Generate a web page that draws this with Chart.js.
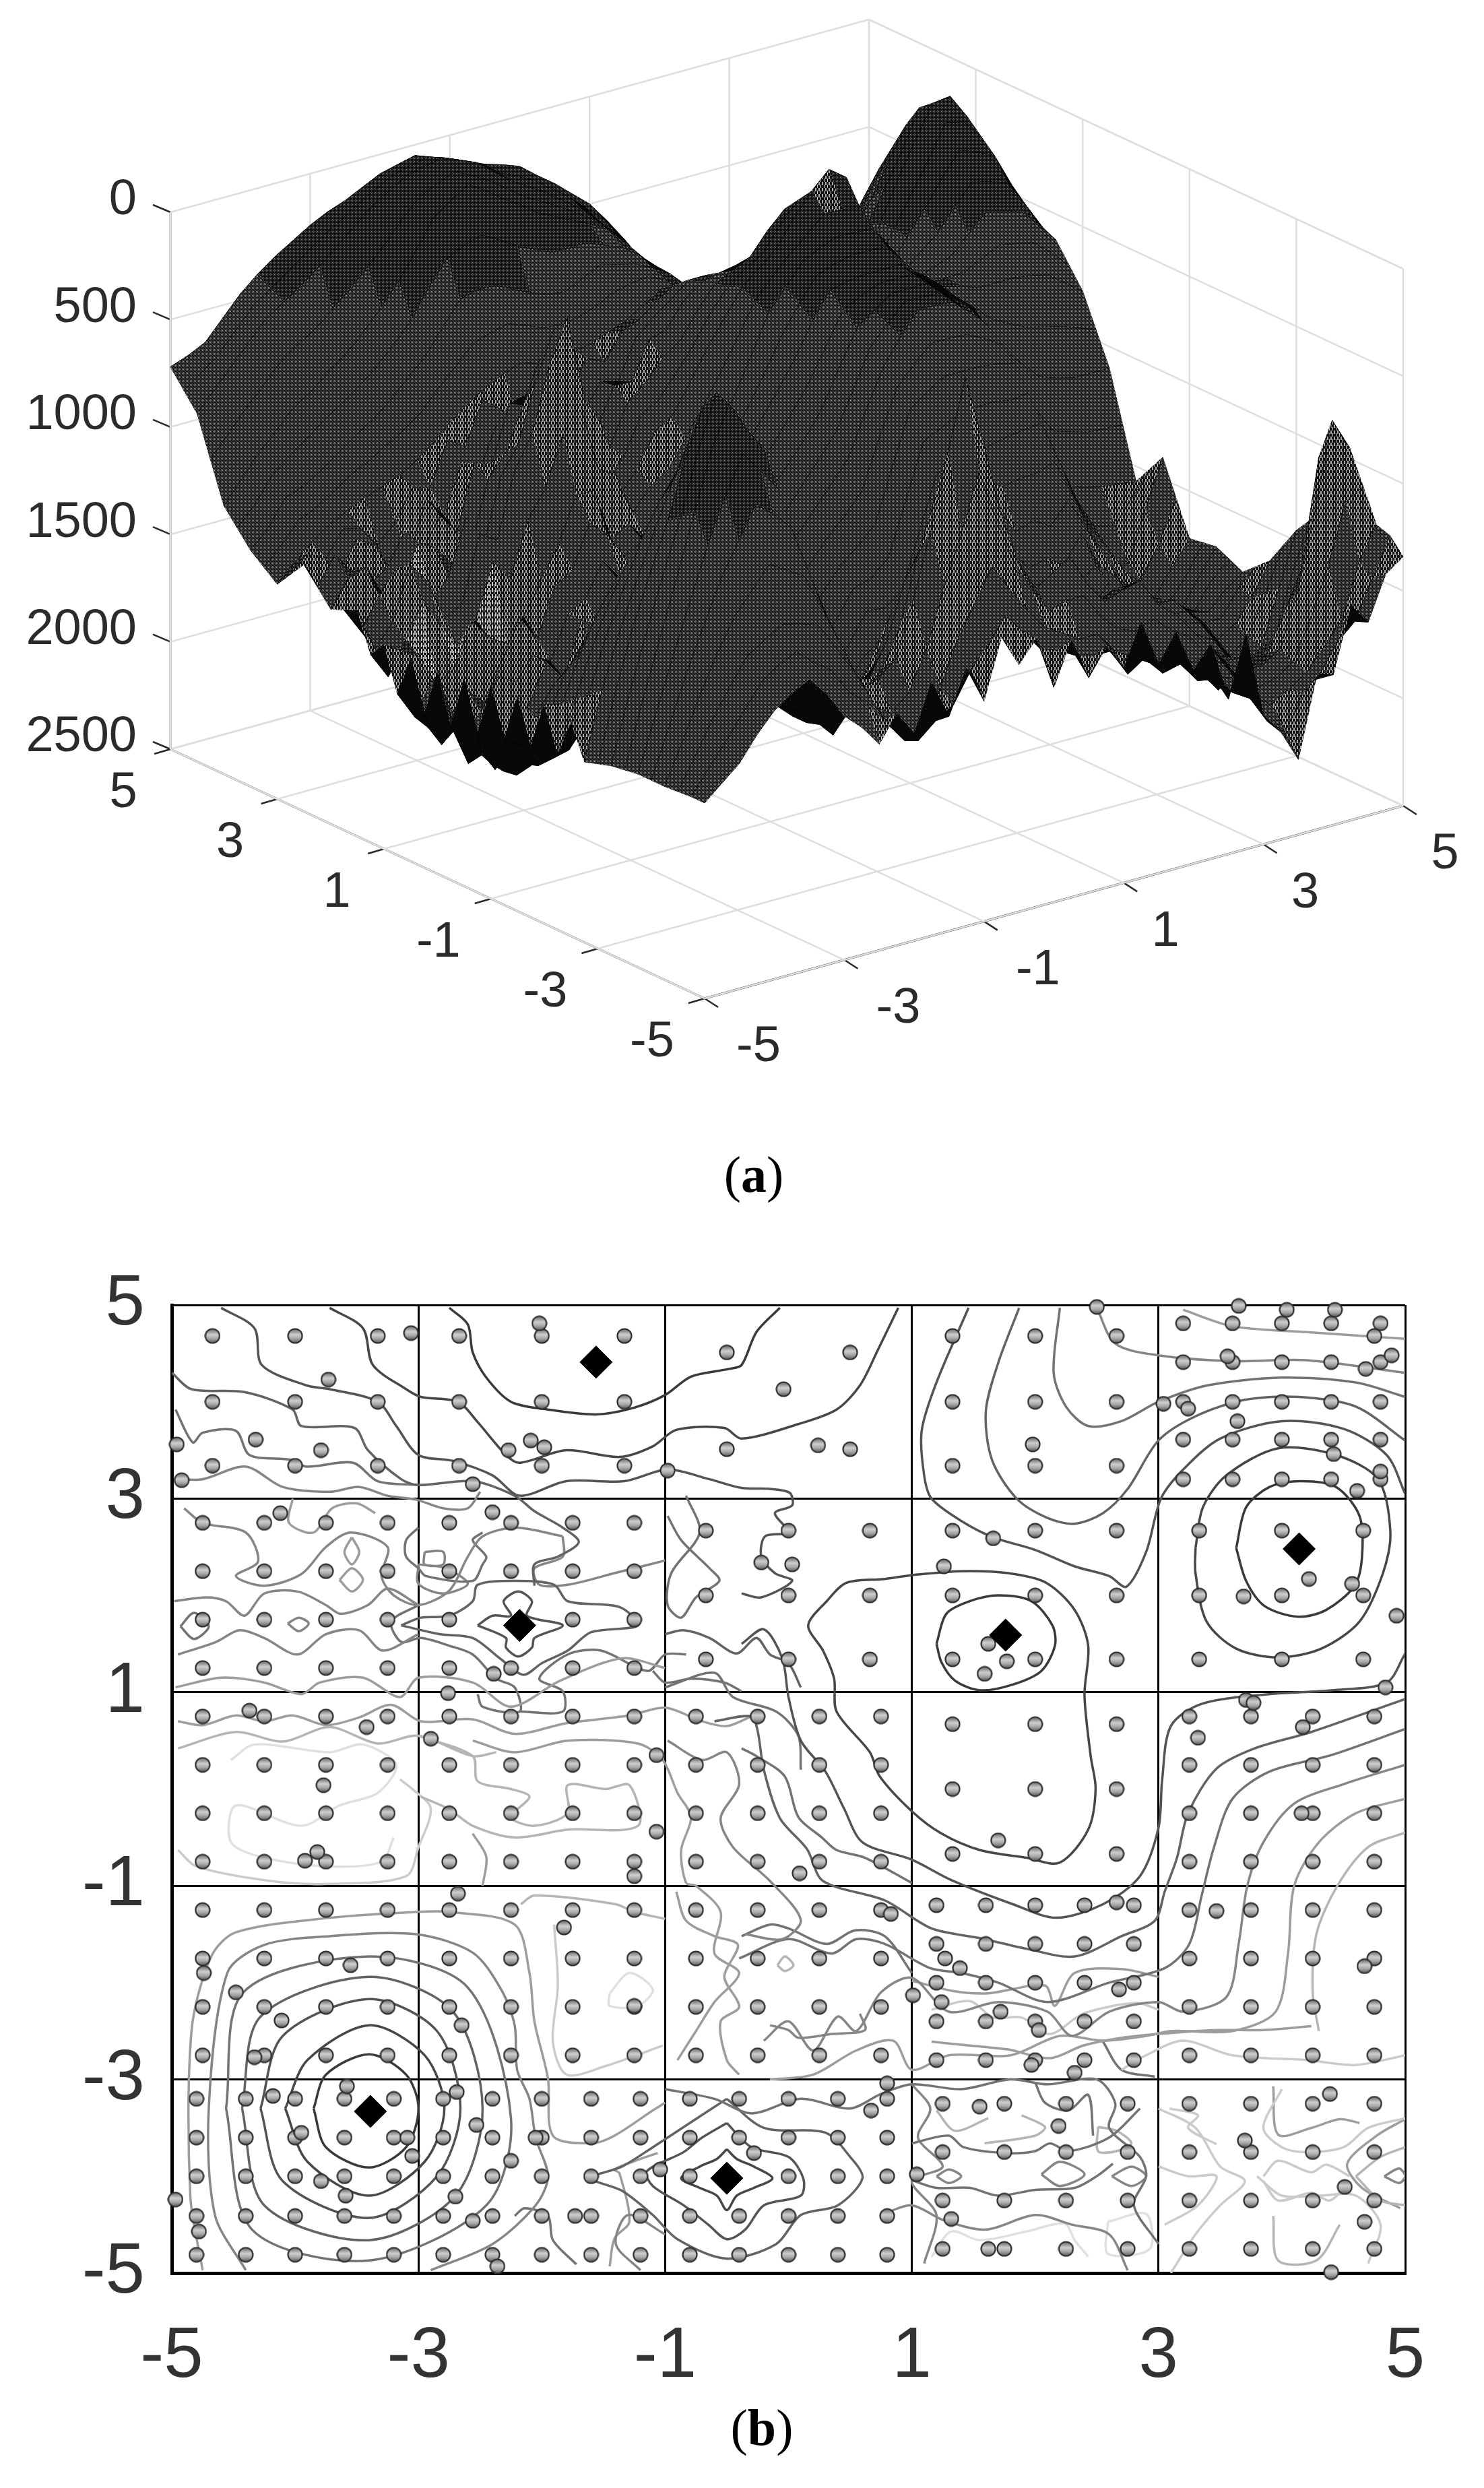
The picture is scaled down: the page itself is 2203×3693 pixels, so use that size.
<!DOCTYPE html>
<html lang="en">
<head>
  <meta charset="UTF-8">
  <title>Surface and contour map</title>
  <script src="https://cdn.jsdelivr.net/npm/chart.js"></script>
  <style>
    html, body { margin: 0; padding: 0; background: #fff; }
    body { width: 2203px; height: 3693px; position: relative; overflow: hidden; }
    canvas { position: absolute; left: 0; }
    #surfaceChart { top: 0; }
    #contourChart { top: 1800px; }
    .caption { position: absolute; font-family: 'Liberation Serif', serif; font-size: 76px; color: #000; transform: translateX(-50%); }
  </style>
</head>
<body>
  <canvas id="surfaceChart" width="2203" height="1700"></canvas>
  <canvas id="contourChart" width="2203" height="1800"></canvas>
  <div class="caption" style="left:1119px;top:1700px">(<b>a</b>)</div>
  <div class="caption" style="left:1131px;top:3560px">(<b>b</b>)</div>

<script>
// tick labels
const floorTicks = [-5, -3, -1, 1, 3, 5];
const depthTicks = [0, 500, 1000, 1500, 2000, 2500];
const mapTicks = [-5, -3, -1, 1, 3, 5];

// surface grid (a) and the contour levels of panel (b)
const gridX = [-5,-4.75,-4.5,-4.25,-4,-3.75,-3.5,-3.25,-3,-2.75,-2.5,-2.25,-2,-1.75,-1.5,-1.25,-1,-0.75,-0.5,-0.25,0,0.25,0.5,0.75,1,1.25,1.5,1.75,2,2.25,2.5,2.75,3,3.25,3.5,3.75,4,4.25,4.5,4.75,5];
const gridY = [5,4.75,4.5,4.25,4,3.75,3.5,3.25,3,2.75,2.5,2.25,2,1.75,1.5,1.25,1,0.75,0.5,0.25,0,-0.25,-0.5,-0.75,-1,-1.25,-1.5,-1.75,-2,-2.25,-2.5,-2.75,-3,-3.25,-3.5,-3.75,-4,-4.25,-4.5,-4.75,-5];
const surfaceZ = [
[720,690,650,560,470,400,340,290,240,200,170,130,90,70,50,80,110,145,180,205,235,300,360,430,500,600,710,850,1000,1200,1380,1440,1500,1580,1650,1730,1800,1850,1900,1930,1950],
[800,740,675,585,495,440,380,320,260,210,155,110,65,45,28,55,90,140,190,230,268,330,390,465,540,650,755,890,1025,1200,1365,1410,1460,1505,1550,1595,1640,1670,1700,1715,1725],
[880,790,700,610,520,470,420,350,280,210,140,90,40,20,5,35,70,135,200,250,300,360,420,500,580,690,800,920,1050,1200,1350,1385,1420,1435,1450,1465,1480,1490,1500,1500,1500],
[1065,970,875,790,700,640,590,520,450,370,285,190,110,70,38,80,125,185,245,290,335,390,440,520,610,700,800,910,1025,1150,1275,1295,1310,1295,1275,1235,1190,1205,1225,1275,1325],
[1250,1150,1050,970,880,830,760,700,620,530,430,310,180,120,70,120,180,230,290,330,370,410,460,540,640,720,800,900,1000,1100,1200,1210,1200,1150,1100,1000,900,920,950,1040,1150],
[1325,1240,1125,1060,1000,930,880,820,750,670,575,450,340,300,275,320,370,410,445,450,445,480,510,570,645,720,810,900,1000,1080,1150,1100,1050,970,900,780,665,700,750,870,990],
[1400,1320,1200,1170,1120,1060,1000,950,880,800,720,610,500,480,480,520,560,590,600,560,520,540,560,600,650,730,820,910,1000,1050,1100,1000,900,800,700,560,430,480,550,680,830],
[1450,1370,1275,1240,1185,1130,1090,1040,990,930,840,760,675,650,630,660,695,700,690,660,620,600,590,630,670,740,810,900,980,1010,1025,920,800,690,585,440,300,370,450,600,760],
[1500,1420,1350,1290,1250,1210,1180,1150,1100,1040,960,900,850,810,780,810,830,800,780,750,720,670,620,650,690,740,800,880,960,960,950,830,700,590,470,320,170,260,350,520,690],
[1425,1350,1400,1280,1300,1400,1315,1180,1200,1000,1055,860,925,1000,940,960,915,800,840,720,685,620,570,590,610,650,700,760,815,840,865,790,690,540,395,240,60,90,235,420,605],
[1350,1500,1450,1300,1350,1500,1450,1200,1300,1080,1150,950,1000,1150,1100,950,1000,880,900,720,650,590,520,520,530,560,600,630,670,720,780,740,680,500,320,160,10,0,120,320,520],
[1425,1300,1400,1480,1425,1280,1400,1250,1350,1050,1075,820,800,1050,1025,1150,1050,870,875,700,675,560,500,480,465,440,410,430,470,570,680,660,650,500,360,220,70,90,180,360,540],
[1500,1380,1350,1500,1500,1300,1350,1450,1400,1100,1000,800,600,850,950,1100,1100,920,850,760,700,580,480,440,400,300,220,240,270,420,580,600,620,510,400,280,170,200,240,400,560],
[1475,1600,1450,1350,1450,1550,1450,1200,1350,1050,925,650,440,800,925,1200,1125,950,900,800,690,560,460,400,350,240,150,160,185,350,525,570,620,550,480,380,285,310,340,460,590],
[1450,1650,1550,1300,1400,1600,1550,1250,1300,1000,850,550,350,750,900,1250,1150,1000,950,820,680,560,440,370,300,180,80,0,60,280,470,550,620,590,560,480,400,420,440,530,620],
[1625,1750,1600,1450,1575,1700,1600,1350,1450,1200,1075,850,725,1050,1100,1300,1200,1150,1025,900,765,620,470,380,300,225,155,160,170,320,470,540,610,610,605,565,525,540,560,630,710],
[1550,1600,1650,1800,1750,1550,1650,1700,1600,1450,1300,1100,1100,1350,1300,1400,1250,1200,1100,980,850,680,500,400,300,260,230,235,240,350,470,530,600,620,650,650,650,660,680,740,800],
[1750,1880,1725,1800,1825,1900,1725,1550,1675,1450,1400,1200,1275,1400,1350,1450,1275,1200,1100,1000,875,730,575,450,340,310,290,290,295,390,485,550,620,690,765,810,850,870,890,920,950],
[1560,1900,1800,1950,1900,1750,1800,1700,1750,1550,1500,1350,1450,1500,1400,1400,1300,1250,1100,1030,900,780,650,500,380,360,350,350,350,420,500,570,640,760,880,970,1050,1080,1100,1100,1100],
[1790,1950,1875,2000,1950,2050,1875,1700,1800,1550,1600,1400,1475,1600,1475,1500,1400,1300,1175,1080,975,860,740,590,440,400,365,365,365,440,515,610,710,860,1015,1150,1275,1300,1325,1330,1335],
[1560,1850,1950,2050,2000,2100,1950,1800,1850,1700,1700,1500,1500,1650,1550,1600,1500,1400,1250,1150,1050,950,830,660,500,440,380,380,380,450,530,650,780,960,1150,1330,1500,1530,1550,1560,1570],
[1780,1980,1950,2060,1975,2080,1975,1800,1825,1780,1725,1550,1550,1720,1625,1650,1525,1450,1325,1230,1125,1020,915,740,560,470,390,390,395,470,545,710,890,1100,1300,1480,1650,1680,1700,1600,1485],
[1540,1900,1950,2050,1950,2020,2000,1820,1800,1850,1750,1620,1600,1800,1700,1700,1550,1500,1400,1300,1200,1100,1000,800,620,500,400,400,410,480,560,770,1000,1230,1450,1630,1800,1830,1850,1620,1400],
[1760,1950,1875,1980,1900,1950,1875,1750,1750,1850,1775,1650,1750,1800,1725,1700,1575,1600,1500,1400,1300,1220,1125,900,690,600,525,525,530,570,620,850,1100,1310,1500,1650,1800,1850,1900,1750,1560],
[1520,1850,1800,1900,1850,1780,1750,1650,1700,1850,1800,1920,1900,1700,1750,1650,1600,1680,1600,1500,1400,1330,1250,1000,760,700,650,650,650,660,680,930,1200,1380,1550,1680,1800,1880,1950,1830,1720],
[1730,1780,1650,1640,1625,1560,1550,1480,1550,1750,1650,1800,1800,1720,1800,1700,1650,1800,1700,1600,1475,1450,1375,1130,880,840,800,790,785,800,790,1020,1250,1420,1575,1700,1825,1900,1950,1850,1710],
[1500,1620,1500,1420,1400,1360,1350,1370,1400,1500,1500,1680,1700,1850,1850,1800,1700,1850,1800,1680,1550,1560,1500,1250,1000,980,950,940,920,910,900,1100,1300,1450,1600,1730,1850,1900,1950,1820,1700],
[1700,1580,1400,1290,1200,1170,1150,1170,1200,1320,1400,1600,1650,1800,1825,1900,1775,1880,1825,1720,1650,1680,1575,1340,1100,1080,1050,1100,1085,1080,1050,1230,1400,1520,1650,1780,1825,1880,1925,1800,1730],
[1480,1500,1300,1130,1000,970,950,970,1000,1150,1300,1500,1600,1780,1800,1900,1850,1880,1850,1780,1750,1780,1650,1400,1200,1250,1150,1280,1250,1300,1200,1350,1500,1650,1700,1800,1800,1880,1900,1820,1760],
[1680,1450,1225,1030,875,790,715,780,850,1040,1225,1420,1550,1750,1800,1880,1825,1880,1775,1850,1800,1800,1675,1550,1350,1420,1325,1420,1400,1450,1325,1500,1575,1720,1775,1820,1825,1900,1900,1780,1705],
[1500,1400,1150,950,750,600,480,580,700,930,1150,1350,1500,1700,1800,1900,1800,1780,1700,1850,1850,1820,1700,1650,1500,1620,1500,1600,1550,1520,1450,1620,1650,1780,1850,1820,1850,1950,1900,1800,1650],
[1660,1350,1100,880,675,480,300,400,525,790,1050,1300,1500,1650,1725,1750,1625,1620,1500,1650,1675,1700,1575,1550,1400,1550,1475,1600,1550,1600,1500,1680,1700,1850,1875,1850,1900,2000,1925,1750,1550],
[1640,1330,1050,820,600,340,120,220,350,650,950,1250,1500,1620,1650,1600,1450,1400,1300,1450,1500,1550,1450,1450,1300,1450,1450,1560,1550,1620,1550,1700,1750,1900,1900,1880,1950,2020,1950,1700,1450],
[1620,1320,1050,790,550,260,20,170,325,620,925,1200,1425,1550,1575,1500,1275,1150,1050,1180,1300,1400,1425,1400,1300,1450,1475,1500,1475,1560,1575,1700,1750,1880,1950,1920,1925,1960,1875,1600,1375],
[1610,1320,1050,780,500,230,40,180,300,600,900,1150,1350,1480,1500,1350,1100,950,800,950,1100,1300,1400,1350,1300,1450,1500,1450,1400,1520,1600,1680,1750,1900,2000,1950,1900,1900,1800,1500,1300],
[1600,1350,1100,860,625,420,245,340,450,720,975,1200,1400,1500,1425,1250,950,700,465,700,950,1150,1300,1250,1200,1350,1425,1400,1350,1480,1550,1650,1725,1850,1925,1900,1850,1680,1500,1000,1050],
[1600,1380,1150,950,750,600,450,520,600,830,1050,1250,1450,1420,1350,1100,800,450,130,450,800,1050,1200,1150,1100,1250,1350,1320,1300,1430,1500,1600,1700,1800,1850,1850,1800,1550,1200,800,950],
[1600,1420,1225,1050,900,800,700,750,800,970,1150,1330,1500,1550,1475,1300,1025,800,540,780,1000,1150,1275,1250,1250,1370,1450,1480,1450,1520,1575,1680,1750,1850,1900,1880,1825,1650,1425,1150,1100],
[1595,1450,1300,1170,1050,1000,950,970,1000,1120,1250,1400,1550,1650,1600,1450,1250,1100,950,1080,1200,1300,1350,1400,1400,1500,1550,1600,1600,1650,1650,1750,1800,1900,1950,1900,1850,1750,1650,1400,1250],
[1590,1480,1375,1260,1150,1090,1050,1120,1180,1300,1375,1480,1540,1620,1550,1500,1360,1260,1150,1250,1350,1380,1425,1450,1450,1580,1525,1620,1600,1700,1715,1800,1850,1980,2050,1900,1825,1700,1625,1450,1270],
[1590,1520,1450,1340,1250,1190,1150,1240,1365,1440,1540,1420,1537,1320,1500,1300,1474,1200,1350,1250,1500,1300,1500,1380,1500,1310,1527,1400,1600,1500,1780,1500,1900,2000,2150,1800,1800,1500,1600,1400,1340]
];

// sample points of panel (b): regular rows, y then its x values
const sampleRows = [
[4.68,[-4.67,-4,-3.33,-2.67,-2,-1.33,1.33,2,2.66]],
[4,[-4.67,-4,-3.33,-2.67,-2,-1.33,1.33,2,2.66]],
[3.34,[-4.67,-4,-3.33,-2.67,-2,-1.33,1.33,2,2.66]],
[2.75,[-4.75,-4.25,-3.75,-3.25,-2.75,-2.25,-1.75,-1.25]],
[2.25,[-4.75,-4.25,-3.75,-3.25,-2.75,-2.25,-1.75,-1.25]],
[1.75,[-4.75,-4.25,-3.75,-3.25,-2.75,-1.75,-1.25]],
[1.25,[-4.75,-4.25,-3.75,-3.25,-2.75,-2.25,-1.75,-1.25]],
[2.67,[-0.67,0,0.66,1.33,2,2.66,3.33,4,4.66]],
[2,[-0.67,0,0.66,1.33,2,2.66,3.33,4,4.66]],
[1.34,[-0.67,0,0.66,1.33,2,2.66,3.33,4,4.66]],
[0.67,[1.33,2,2.66]],
[0,[1.33,2,2.66]],
[-0.67,[1.33,2,2.66]],
[0.75,[-4.75,-4.25,-3.75,-3.25,-2.75,-2.25,-1.75,-1.25,-0.75,-0.25,0.25,0.75,3.25,3.75,4.25,4.75]],
[0.25,[-4.75,-4.25,-3.75,-3.25,-2.75,-2.25,-1.75,-1.25,-0.75,-0.25,0.25,0.75,3.25,3.75,4.25,4.75]],
[-0.25,[-4.75,-4.25,-3.75,-3.25,-2.75,-2.25,-1.75,-1.25,-0.75,-0.25,0.25,0.75,3.25,3.75,4.25,4.75]],
[-0.75,[-4.75,-4.25,-3.75,-3.25,-2.75,-2.25,-1.75,-1.25,-0.75,-0.25,0.25,0.75,3.25,3.75,4.25,4.75]],
[-1.25,[-4.75,-4.25,-3.75,-3.25,-2.75,-2.25,-1.75,-1.25,-0.75,-0.25,0.25,0.75,3.25,3.75,4.25,4.75]],
[-1.75,[-4.75,-4.25,-3.75,-3.25,-2.75,-2.25,-1.75,-1.25,-0.75,-0.25,0.25,0.75,3.25,3.75,4.25,4.75]],
[-2.25,[-4.75,-4.25,-3.75,-3.25,-2.75,-2.25,-1.75,-1.25,-0.75,-0.25,0.25,0.75,3.25,3.75,4.25,4.75]],
[-2.75,[-4.75,-4.25,-3.75,-3.25,-2.75,-2.25,-1.75,-1.25,-0.75,-0.25,0.25,0.75,3.25,3.75,4.25,4.75]],
[4.81,[3.2,3.6,4,4.4,4.8]],
[4.41,[3.2,3.6,4,4.4,4.8]],
[4,[3.2,3.6,4,4.4,4.8]],
[3.61,[3.2,3.6,4,4.4,4.8]],
[3.2,[3.2,3.6,4,4.4,4.8]],
[-1.2,[1.2,1.6,2,2.4,2.8]],
[-1.6,[1.2,1.6,2,2.4,2.8]],
[-2,[1.2,1.6,2,2.4,2.8]],
[-2.4,[1.2,1.6,2,2.4,2.8]],
[-2.8,[1.2,1.6,2,2.4,2.8]],
[-3.2,[-4.8,-4.4,-4,-3.6,-3.2,-2.8,-2.4,-2,-1.6,-1.2,-0.8,-0.4,0,0.4,0.8]],
[-3.6,[-4.8,-4.4,-4,-3.6,-3.2,-2.8,-2.4,-2,-1.6,-1.2,-0.8,-0.4,0,0.4,0.8]],
[-4,[-4.8,-4.4,-4,-3.6,-3.2,-2.8,-2.4,-2,-1.6,-1.2,-0.8,0,0.4,0.8]],
[-4.41,[-4.8,-4.4,-4,-3.6,-3.2,-2.8,-2.4,-2,-1.6,-1.2,-0.8,-0.4,0,0.4,0.8]],
[-4.81,[-4.8,-4.4,-4,-3.6,-3.2,-2.8,-2.4,-2,-1.6,-1.2,-0.8,-0.4,0,0.4,0.8]],
[-3.25,[1.25,1.75,2.25,2.75,3.25,3.75,4.25,4.75]],
[-3.75,[1.25,1.75,2.25,2.75,3.25,3.75,4.25,4.75]],
[-4.25,[1.25,1.75,2.25,2.75,3.25,3.75,4.25,4.75]],
[-4.75,[1.25,1.75,2.25,2.75,3.25,3.75,4.25,4.75]]
];
// off-grid sample points
const sampleExtraX = [-3.06,-2.02,-3.73,-4.96,-4.32,-3.79,-2.27,-2.09,-1.98,-4.92,-2.56,-0.98,-0.5,-0.5,-4.12,-2.4,-2.39,-2.76,-4.37,-3.42,-2.9,-1.07,-3.77,-1.07,-3.92,-3.82,-1.25,0.5,-0.04,0.24,0.5,-0.22,0.03,0.09,1.98,2.5,1.66,1.26,1.62,1.77,1.59,1.7,3.65,4.04,4.43,4.75,3.56,4.68,4.89,3.04,3.24,3.64,4.42,4.8,4.61,4.22,3.69,4.57,4.93,4.84,3.71,3.77,3.32,4.17,4.16,-4.74,-3.55,-4.48,-4.11,-4.33,-2.68,-1.82,-2.65,-1.25,-4.18,-3.58,-3.95,-3.79,-3.59,-3.09,-3.05,-4.97,-4.78,-2.69,-2.53,-2.25,-2.7,-2.56,-2.05,-1.73,-2.36,-1.04,0.8,0.67,1.04,0.83,1.01,-0.28,2.66,1.27,1.39,1.24,2.68,1.72,2.03,1.97,2.32,3.47,4.67,1.55,2.19,1.32,1.62,4.39,3.7,4.51,4.67,4.4];
const sampleExtraY = [4.71,4.81,4.23,3.56,3.61,3.5,3.5,3.6,3.53,3.19,3.15,3.29,4.51,3.51,2.85,2.86,1.19,0.99,0.81,0.64,0.52,0.35,0.04,-0.44,-0.74,-0.65,-0.9,4.51,4.13,3.55,3.51,2.34,2.32,-0.87,3.56,4.98,2.59,2.3,1.5,1.32,1.19,-0.53,4.99,4.95,4.95,4.68,4.47,4.34,4.48,3.98,3.93,3.8,3.46,3.28,3.08,2.17,1.99,2.12,1.79,1.05,0.92,0.89,0.53,0.64,-0.25,-1.9,-1.82,-2.1,-2.39,-2.77,-1.08,-1.43,-2.44,-2.24,-3.17,-3.07,-3.55,-4.05,-4.2,-3.6,-3.79,-4.24,-4.57,-3.13,-3.47,-3.84,-4.21,-4.46,-3.6,-4.41,-4.93,-3.93,-3.04,-3.32,-3.98,-1.29,-2.13,-3.76,-1.17,-1.75,-1.85,-2.2,-2.07,-2.3,-2.49,-2.85,-2.93,-1.26,-1.83,-3.28,-3.48,-4.44,-4.75,-3.15,-3.63,-4.11,-4.47,-4.99];
// optima marked with diamonds
const optimaX = [-1.56,-2.18,1.76,4.14,-3.39,-0.5];
const optimaY = [4.41,1.69,1.59,2.48,-3.33,-4.02];

// traced contour lines of panel (b): x,y,x,y...; contourLevels runs dark (1) to pale (10)
const contourLevels = [1,2,3,4,5,3,4,6,6,6, 1,2,1,2,3,3,4,4,5,6, 7,1,2,3,4,5,6,7,6,7, 8,10,7,8,7,6,8,9,10,6, 5,7,5,5,5,6,9,9,9,8, 8,6,6,6,8,9,9,2,3,4, 6,5,4,5,7,7, 5,6,5,5,6,7,5,5,5,6,6,7,8, 5,6,7,9,7,5,5,8,8,8,6, 10,10,9,9,9,9,7,8,7,6,5];
const contourLines = [
[-2.75,4.97,-2.6,4.8,-2.56,4.51,-2.45,4.25,-2.25,4,-1.95,3.92,-1.56,3.87,-1.25,3.94,-1,4.07,-0.79,4.26,-0.48,4.34,-0.38,4.38,-0.26,4.72,-0.07,4.97],
[-3.72,4.97,-3.45,4.76,-3.37,4.38,-3.1,4.13,-2.98,4.05,-2.68,4,-2.52,3.79,-2.29,3.45,-2.18,3.37,-1.8,3.5,-1.37,3.43,-1.1,3.54,-0.91,3.71,-0.52,3.73,-0.38,3.62,0.08,3.77,0.39,3.92,0.58,4.17,0.73,4.55,0.89,4.97],
[-4.6,4.97,-4.33,4.76,-4.27,4.38,-3.91,4.17,-3.72,4.13,-3.33,4,-3.18,3.75,-3,3.45,-2.72,3.39,-2.4,3.24,-2.18,3.03,-1.8,3.18,-1.33,3.18,-0.98,3.3,-0.64,3.2,-0.38,3.11,-0.15,3.1,0.01,3.06,0.03,2.93,-0.11,2.85,0,2.65,-0.19,2.61,-0.22,2.4,-0.11,2.23,0.03,2.15,-0.22,1.98,-0.38,2.02],
[-5,4.3,-4.84,4.13,-4.41,4.1,-4.02,3.92,-3.95,3.75,-3.52,3.73,-3.41,3.5,-3.14,3.2,-3,3.14,-2.56,3.18,-2.22,3.03,-2.06,2.87,-1.83,2.7,-1.7,2.55,-1.87,2.4,-2.06,2.32,-2.06,2.1],
[-4.97,3.92,-4.83,3.58,-4.75,3.68,-4.48,3.7,-4.37,3.45,-4.03,3.4,-3.91,3.33,-3.53,3.37,-3.33,3.18,-3,3.14],
[-2.52,1.69,-2.4,1.79,-2.25,1.79,-2.31,1.94,-2.19,2.04,-2.08,1.94,-2.12,1.79,-1.83,1.69,-2.06,1.56,-2.08,1.46,-2.19,1.37,-2.29,1.46,-2.29,1.56,-2.52,1.69],
[-3.14,1.69,-2.98,1.77,-2.75,1.79,-2.56,1.94,-2.52,2.11,-2.21,2.15,-1.9,2.11,-1.79,1.94,-1.37,1.88,-1.22,1.69,-1.6,1.62,-1.79,1.43,-2,1.3,-2.15,1.18,-2.34,1.35,-2.56,1.56,-2.83,1.6,-3.14,1.69],
[-4.95,3.2,-4.75,3.2,-4.4,3.33,-4.1,3.12,-3.72,3.07,-3.48,3.12,-3.25,3.03,-3.02,2.99,-2.8,2.9,-2.6,2.9,-2.5,3.07],
[-4.9,2.9,-4.75,2.75,-4.4,2.65,-4.3,2.35,-4.48,2.2,-4.25,2.1,-3.95,2.22,-3.75,2.5,-3.55,2.65,-3.25,2.5,-3.3,2.2,-3.2,2,-3,1.9,-2.75,2.05,-2.6,2.4,-2.48,2.61,-2.21,2.7,-1.83,2.61],
[-4.98,1.94,-4.72,1.98,-4.56,1.94,-4.41,1.79,-4.25,2.02,-3.98,2.04,-3.75,1.9,-3.63,1.81,-3.41,1.9,-3.25,2.07,-3,1.9],
[1.2,1.5,1.28,1.81,1.47,1.94,1.7,2,1.97,1.94,2.14,1.69,2.16,1.48,2.05,1.22,1.82,1.08,1.55,1.02,1.35,1.12,1.24,1.31,1.2,1.5],
[1,2.21,1.39,2.25,1.78,2.23,2.09,2.13,2.32,1.85,2.43,1.48,2.4,0.97,2.45,0.34,2.49,0,2.43,-0.42,2.2,-0.76,1.93,-0.71,1.55,-0.63,1.24,-0.46,1,-0.23,0.74,0.13,0.66,0.38,0.39,0.8,0.37,1.14,0.28,1.43,0.16,1.69,0.31,1.94,0.47,2.13,0.78,2.17,1,2.21],
[3.63,2.49,3.71,2.91,3.9,3.12,4.15,3.18,4.44,3.12,4.63,2.82,4.65,2.4,4.59,2.1,4.36,1.85,4.13,1.78,3.86,1.89,3.71,2.15,3.63,2.49],
[3.3,2.49,3.36,2.91,3.55,3.24,3.97,3.52,4.44,3.45,4.78,3.2,4.88,2.65,4.82,2.23,4.63,1.73,4.32,1.45,3.97,1.36,3.63,1.45,3.39,1.73,3.3,2.23,3.3,2.49],
[1.46,4.97,1.2,4.2,1.08,3.7,1.1,3.24,1.16,3,1.4,2.77,1.66,2.6,2,2.47,2.32,2.3,2.6,2.2,2.74,2.09,2.9,2.45,3.02,3,3.2,3.3,3.5,3.62,4,3.8,4.5,3.72,4.85,3.45,5,3.05],
[5,1.4,4.85,1.1,4.4,1.02,3.9,0.98,3.35,0.88,3.1,0.65,3.03,0.1,3,-0.4,2.85,-0.9,2.55,-1.19,2.17,-1.33,1.82,-1.19,1.32,-0.94,1,-0.73,0.6,-0.55,0.45,-0.2,0.3,0.18,0.1,0.5,0,0.95,-0.05,1.35,-0.2,1.65,-0.38,1.5],
[1.87,4.97,1.7,4.4,1.6,3.9,1.65,3.4,1.85,3,2.1,2.8,2.32,2.74,2.55,2.85,2.75,3.1,3,3.6,3.3,3.85,3.7,4.02,4.14,4.05,4.6,3.95,5,3.6],
[5,0.93,4.24,0.59,3.78,0.42,3.47,0.21,3.24,-0.25,3.15,-0.71,3.05,-1.06,2.97,-1.36,2.7,-1.52,2.32,-1.73,1.93,-1.65,1.55,-1.54,1.16,-1.44,0.78,-1.15,0.28,-0.95,0.15,-0.62,-0.07,-0.3,-0.2,0.2,-0.25,0.6,-0.3,0.75,-0.6,0.7],
[2.2,4.97,2.15,4.3,2.25,3.95,2.43,3.75,2.7,3.8,3,4,3.4,4.17,4,4.25,4.6,4.2,5,4.05],
[2.5,4.97,2.65,4.6,3,4.48,3.6,4.42,4.2,4.43,5,4.3],
[3.2,4.95,3.6,4.78,4.2,4.72,5,4.65],
[-3.85,-3.3,-3.75,-2.95,-3.4,-2.74,-3.1,-2.95,-3,-3.3,-3.1,-3.7,-3.4,-3.91,-3.75,-3.7,-3.85,-3.3],
[-4.08,-3.3,-3.9,-2.8,-3.4,-2.44,-2.95,-2.75,-2.79,-3.3,-2.95,-3.85,-3.4,-4.2,-3.9,-3.85,-4.08,-3.3],
[-4.28,-3.3,-4.1,-2.55,-3.4,-2.17,-2.85,-2.5,-2.66,-3.3,-2.85,-4,-3.4,-4.43,-4.1,-4.05,-4.28,-3.3],
[-4.43,-3.3,-4.28,-2.35,-3.4,-1.94,-2.72,-2.3,-2.48,-3.3,-2.7,-4.2,-3.4,-4.66,-4.25,-4.3,-4.43,-3.3],
[-4.56,-3.3,-4.42,-2.1,-3.4,-1.73,-2.6,-2.05,-2.25,-3.4,-2.45,-4.3,-3.4,-4.87,-4.35,-4.55,-4.56,-3.3],
[-4.4,-4.97,-4.65,-4.4,-4.7,-3.3,-4.55,-1.9,-4.25,-1.61,-3.72,-1.52,-3.02,-1.5,-2.56,-1.69,-2.33,-2.07,-2.22,-2.44,-2.2,-2.9,-2.1,-3.2,-2.05,-3.6,-1.95,-4,-2.05,-4.3,-2.4,-4.7,-2.9,-4.97],
[-4.75,-4.97,-4.85,-4.2,-4.84,-2.5,-4.68,-1.73,-4.48,-1.48,-3.72,-1.33,-3.02,-1.27,-2.75,-1.27,-2.22,-1.4,-2.1,-1.9,-2.06,-2.4,-1.95,-2.99,-1.91,-3.58,-1.6,-3.66,-1.41,-3.58,-1.1,-3.32,-1,-3.24],
[-4.95,1.39,-4.64,1.52,-4.45,1.64,-4.25,1.56,-3.98,1.39,-3.75,1.6,-3.48,1.64,-3.29,1.43,-3,1.6],
[-4.97,1.05,-4.6,1.15,-4.25,1.1,-3.95,0.98,-3.8,1.1,-3.45,1.15,-3.15,0.95,-3,1.15,-2.56,1.1,-2.25,0.85,-1.85,1.12,-1.35,1.35,-1,1.25],
[-4.95,0.42,-4.48,0.59,-4.1,0.49,-3.72,0.64,-3.33,0.47,-3,0.55,-2.56,0.34,-2.37,0.38],
[-4.52,0.3,-4.33,0.46,-3.72,0.38,-3.45,0.46,-3.18,0.25,-3.33,-0.04,-3.64,-0.17,-3.95,-0.38,-4.48,-0.17,-4.52,-0.55,-4.25,-0.71,-3.72,-0.8,-3.3,-0.75,-3.2,-0.5],
[-4.95,0.7,-4.75,0.66,-4.48,0.76,-4.25,0.7,-4.02,0.76,-3.75,0.66,-3.48,0.74,-3.22,0.87,-2.98,0.7,-2.56,0.72,-2.22,0.57,-1.8,0.68,-1.29,0.76,-1,0.84,-0.7,0.7,-0.5,0.65,-0.3,0.75],
[-3,0.55,-2.56,0.34,-2.52,0.08,-2.25,0,-2.1,-0.08,-2.25,-0.29,-2.06,-0.38,-1.79,-0.25,-1.79,0.04,-1.48,0,-1.29,0.04,-1.22,-0.38,-1.79,-0.42,-2.22,-0.5,-2.56,-0.38,-2.75,-0.21,-2.98,-0.08],
[-2.56,0.5,-2.22,0.38,-1.79,0.5,-1.22,0.47,-1.02,0.3,-0.9,-0.04,-0.79,-0.29,-0.87,-0.63,-0.83,-0.97,-0.75,-1,-0.55,-1.27,-0.6,-1.7,-0.4,-1.9,-0.6,-2.2,-0.75,-2.5,-0.9,-2.8],
[-0.98,0.5,-0.7,0.3,-0.5,0.38,-0.4,0.05,-0.55,-0.3,-0.45,-0.6,-0.15,-0.95,0.1,-1.35,-0.05,-1.55,-0.35,-1.5],
[-2.17,-1.19,-2.06,-1.1,-1.4,-1.19,-1.25,-1.27,-1,-1.34],
[-1.9,-1.4,-1.87,-2.03,-1.91,-2.61,-1.8,-2.95,-1.48,-2.86,-1.02,-2.65],
[-1.45,-2.11,-1.29,-1.9,-1.1,-2.07,-1.22,-2.24,-1.45,-2.24,-1.45,-2.11],
[-0.2,-2.6,0,-2.4,0.2,-2.7,0.4,-2.35,0.55,-2.5,0.75,-2.1,1,-1.95,1.3,-2.3,1.7,-2.2,2.1,-2.3,2.3,-2.55,2.6,-2.3,3,-2.2,3.2,-2.3,3.55,-2.15,3.65,-1.6,3.72,-1,3.85,-0.55,4.1,-0.15,4.5,0.05,5,0.25],
[-1,-3.1,-0.6,-3.2,-0.3,-3.35,0.1,-3.2,0.5,-3.3,0.75,-3.15,1,-3.05,1.4,-3.1,1.8,-3,2.1,-3.05,2.5,-3,2.65,-3.25,2.6,-3.5,2.85,-3.8,2.9,-4,2.8,-4.3,3,-4.7],
[-0.15,-3,0.2,-2.95,0.55,-2.7,0.85,-2.6,1,-2.9,1.3,-2.75,1.8,-2.75,2.2,-2.55,2.55,-2.6,2.9,-2.55,3.1,-2.5,3.6,-2.5,3.95,-2.3,4.05,-1.7,4.1,-1,4.3,-0.55,4.6,-0.25,5,-0.1],
[-0.4,-1.75,0,-1.55,0.35,-1.7,0.55,-1.55,0.78,-1.6,1.15,-1.85,1.4,-1.9,1.7,-2,2.1,-2.2,2.6,-2,3.05,-1.85,3.25,-1.6,3.35,-1.1,3.45,-0.6,3.6,-0.1,3.9,0.18,4.4,0.35,5,0.62],
[1,-3.66,1.3,-3.58,1.42,-3.7,1.75,-3.76,2,-3.74,2.12,-3.66,2.27,-3.74,2.6,-3.6,2.85,-3.3],
[1,-4.04,1.2,-4.12,1.47,-4.12,1.7,-4.2,2,-4.14,2.32,-4.12,2.51,-3.99,2.63,-3.87],
[0.75,-4.4,1,-4.3,1.25,-4.45,1.6,-4.55,2,-4.4,2.3,-4.5,2.6,-4.6,2.75,-4.97],
[3,-3.3,3.3,-3.5,3.5,-3.9,3.7,-4.05,3.5,-4.3,3.3,-4.6,3.1,-5],
[4,-3.1,3.85,-3.5,4,-3.7,4.2,-3.75,4.5,-3.7,4.7,-3.5,5,-3.4],
[5,-2.75,4.6,-2.85,4.2,-2.8,3.6,-2.75,3.2,-2.6,2.9,-2.75,2.7,-2.9],
[4.6,-4,4.8,-3.8,5,-3.7],
[4.6,-4,4.8,-4.25,5,-4.3],
[1,-3.05,1.15,-3.3,1.05,-3.6,1.25,-3.9,1,-4.05,1.2,-4.4,1.1,-4.9],
[2.05,-3.98,2.2,-3.85,2.4,-3.98,2.2,-4.1,2.05,-3.98],
[1.2,-4,1.3,-3.93,1.4,-4,1.3,-4.07,1.2,-4],
[5,-0.45,4.7,-0.6,4.45,-1,4.28,-1.5,4.25,-2.1,4.3,-2.5],
[3.8,-4,4,-4.2,4.3,-4.2,4.6,-4.2,4.8,-4.5,4.7,-4.9],
[-4.95,-0.63,-4.8,-0.8,-4.2,-0.95,-3.72,-0.98,-3.1,-0.9,-3,-0.6,-2.9,-0.2,-3.05,0,-3.15,0.1],
[-0.5,-3.72,-0.42,-3.82,-0.28,-3.9,-0.13,-4.02,-0.28,-4.12,-0.42,-4.2,-0.5,-4.35,-0.58,-4.2,-0.72,-4.12,-0.87,-4.02,-0.72,-3.9,-0.58,-3.82,-0.5,-3.72],
[-0.5,-3.45,-0.3,-3.7,0,-3.8,0.12,-4.02,0.1,-4.2,-0.2,-4.3,-0.35,-4.55,-0.5,-4.65,-0.65,-4.5,-0.85,-4.3,-1.1,-4.1,-1.15,-3.95,-0.85,-3.75,-0.7,-3.6,-0.5,-3.45],
[-0.5,-3.2,-0.2,-3.5,0.3,-3.55,0.5,-3.8,0.6,-4.02,0.4,-4.3,0.1,-4.4,-0.1,-4.7,-0.5,-4.85,-0.9,-4.65,-1.1,-4.4,-1.35,-4.15,-1.6,-4.02,-1.35,-3.9,-1.1,-3.7,-0.8,-3.45,-0.5,-3.2],
[-1,-4.6,-1.3,-4.4,-1.4,-4.7,-1.2,-4.97],
[-0.98,2.82,-0.87,2.57,-0.64,2.28,-0.56,2.15,-0.75,1.98,-0.87,1.77,-0.98,1.9,-0.95,2.23,-0.72,2.65,-0.83,3.03],
[-1,1.6,-0.85,1.64,-0.64,1.56,-0.42,1.4,-0.26,1.56,-0.15,1.39,0,1.3,0.1,1.05],
[-1,1.05,-0.6,1.2,-0.45,0.95,-0.1,0.8,0.08,0.55,0.1,0.2],
[-3.64,2.16,-3.54,2.28,-3.45,2.16,-3.54,2.04,-3.64,2.16],
[-4.02,3,-4.05,2.75,-3.85,2.65,-3.7,2.9,-3.5,2.95,-3.35,2.85],
[-3,2.7,-3.1,2.57,-3.1,2.4,-3,2.28,-2.94,2.2,-2.56,2.15,-2.48,2.32,-2.45,2.4,-2.56,2.57,-2.48,2.65],
[-1.83,2.61,-1.83,2.4,-2.06,2.28,-2.02,2.11,-1.79,2.11,-1.41,2.23,-1,2.36],
[-3,1.9,-3.22,1.73,-3.14,1.52,-2.98,1.56,-2.75,1.48,-2.56,1.39,-2.37,1.14,-2.22,1.05,-2.18,0.8,-2.48,0.85,-2.52,0.98],
[-2.18,0.8,-1.83,0.8,-1.83,1.01,-2.02,1.14,-1.79,1.39,-1.52,1.43,-1.14,1.22,-1,1.39,-0.83,1.39],
[-4.06,1.71,-3.97,1.77,-3.89,1.71,-3.97,1.63,-4.06,1.71],
[-3.54,2.6,-3.48,2.45,-3.54,2.32,-3.6,2.45,-3.54,2.6],
[-4.93,1.68,-4.82,1.82,-4.7,1.68,-4.82,1.55,-4.93,1.68],
[-1.1,1.22,-1,1.1,-0.79,1.14,-0.52,1.1,-0.38,1.01],
[-0.38,0.42,-0.26,0.34,-0.03,0.13,0.08,-0.29,0.27,-0.5,0.39,-0.63,0.62,-0.71,1,-0.97],
[-3,2.32,-2.78,2.28,-2.6,2.12,-2.8,2.02,-3,2.12,-3,2.32],
[-2.95,2.45,-2.8,2.45,-2.8,2.32,-2.95,2.32,-2.95,2.45],
[-0.91,-1.06,-0.83,-1.36,-0.6,-1.52,-0.41,-1.61,-0.52,-1.94,-0.4,-2.25,-0.55,-2.4,-0.5,-2.8,-0.4,-2.95],
[-0.09,-1.82,-0.03,-1.73,0.04,-1.82,-0.03,-1.88,-0.09,-1.82],
[-0.38,-1.52,-0.15,-1.4,0,-1.44,0.31,-1.6,0.54,-1.46,0.78,-1.52,1,-1.9],
[-0.15,-2.44,0,-2.49,0.08,-2.57,0.35,-2.53,0.62,-2.49,0.58,-2.32],
[1,-1.98,1.35,-2.09,1.62,-2.11,2.08,-2.03,2.16,-2.24,2.32,-1.9,2.7,-1.86,3,-1.94],
[1.16,-2.28,1.47,-2.19,1.66,-2.36,1.89,-2.36,2.12,-2.53,2.39,-2.32,2.82,-2.21,3,-2.28],
[1.16,-2.61,1.47,-2.65,1.78,-2.69,2.12,-2.78,2.39,-2.65,2.7,-2.57,3,-2.53,3.47,-2.49,3.85,-2.49,4.24,-2.45],
[2.55,-2.61,2.7,-2.9,2.97,-2.97],
[2,-3.03,2.08,-3.24,2.27,-3.32,2.43,-3.16,2.47,-3.58],
[1.89,-3.37,2.08,-3.49,2,-3.58,1.59,-3.66],
[1.2,-3.32,1.35,-3.53,1.62,-3.4],
[2.51,-3.49,2.66,-3.53,2.78,-3.66,2.66,-3.74,2.51,-3.74,2.51,-3.49],
[2.62,-4,2.78,-3.9,2.9,-4,2.78,-4.1,2.62,-4],
[2.59,-4.47,2.9,-4.39,2.93,-4.75,2.59,-4.8,2.59,-4.47],
[1.16,-4.83,1.32,-4.57,1.55,-4.66,1.93,-4.57,2.24,-4.49,2.32,-4.66,2.43,-4.83],
[3.09,-3.3,3.32,-3.37,3.24,-3.5,3.47,-3.67],
[3,-3.9,3.24,-4,3.47,-4,3.32,-4.3,3.05,-4.5],
[3.85,-4,3.97,-3.84,4.24,-3.96,4.36,-3.88,4.55,-4],
[3.85,-4.05,3.97,-4.25,4.24,-4.17,4.39,-4.25,4.55,-4.05],
[3.93,-3.07,3.97,-3.57,4.24,-3.5,4.47,-3.41,4.63,-3.45],
[3.93,-4.41,3.97,-4.87,4.28,-4.87,4.47,-4.5],
[5,-3.41,4.77,-3.58,4.53,-3.87,4.65,-4.12,4.96,-4.33],
[4.83,-4,4.95,-3.92,5,-4,4.95,-4.07,4.83,-4],
[-2.22,-4.41,-2.14,-4.33,-1.95,-4.41,-1.91,-4.66,-1.72,-4.91],
[-1.45,-4.93,-1.41,-4.64,-1.29,-4.47,-1.37,-3.97,-1.41,-3.93,-1.22,-3.83,-1.06,-3.76],
[-2.56,-0.46,-2.45,-0.7,-2.48,-1]
];

// projection of panel (a): floor corners and height of the box in view units
function project(x, y, z) {
  const a = (y + 5) / 10, b = (x + 5) / 10;
  return {
    x: 1046 - 793 * a + 1037 * b,
    y: 1482 - 370 * a - 286 * b - (2500 - z) * 797 / 2500
  };
}

function makeTile(w, h, specks) {
  const c = document.createElement('canvas');
  c.width = w; c.height = h;
  const g = c.getContext('2d');
  g.fillStyle = '#111';
  g.fillRect(0, 0, w, h);
  specks.forEach(s => { g.fillStyle = s[4]; g.fillRect(s[0], s[1], s[2], s[3]); });
  return g.createPattern(c, 'repeat');
}

const ctxA = document.getElementById('surfaceChart').getContext('2d');
const tileBlack = '#080808';
const tileDark = makeTile(4, 4, [[1, 1, 1, 1, '#777'], [3, 3, 1, 1, '#888'], [1, 3, 1, 1, '#444'], [3, 1, 1, 1, '#444']]);
const tileMid = makeTile(4, 4, [[0, 0, 1, 1, '#999'], [2, 2, 1, 1, '#aaa'], [2, 0, 1, 1, '#777'], [0, 2, 1, 1, '#777'], [1, 1, 1, 1, '#444'], [3, 3, 1, 1, '#444']]);
const tileSteep = makeTile(5, 9, [[0, 0, 2, 5, '#aaa'], [3, 4, 1, 5, '#ccc']]);
const tileBright = makeTile(5, 9, [[0, 0, 2, 6, '#ccc'], [3, 3, 1, 6, '#ddd']]);

function tileFor(q, zs) {
  let s = 0;
  for (let i = 0; i < 4; i++) {
    const p = q[i], n = q[(i + 1) % 4];
    s += p.x * n.y - n.x * p.y;
  }
  const area = s / 2;
  const twist = Math.abs(zs[0] + zs[2] - zs[1] - zs[3]);
  if (area < 170) return tileBlack;
  if (area < 320) return tileDark;
  if (twist > 280) return tileBright;
  if (twist > 70) return tileSteep;
  const mean = (zs[0] + zs[1] + zs[2] + zs[3]) / 4;
  return mean < 450 ? tileDark : tileMid;
}

const surfaceSets = [];
let drawOrder = 100000;
for (let i = 0; i < gridY.length - 1; i++) {
  for (let j = gridX.length - 2; j >= 0; j--) {
    const zs = [surfaceZ[i][j], surfaceZ[i][j + 1], surfaceZ[i + 1][j + 1], surfaceZ[i + 1][j]];
    if (zs.some(v => v === undefined)) continue;
    const q = [
      project(gridX[j], gridY[i], zs[0]),
      project(gridX[j + 1], gridY[i], zs[1]),
      project(gridX[j + 1], gridY[i + 1], zs[2]),
      project(gridX[j], gridY[i + 1], zs[3])
    ];
    surfaceSets.push({ data: q, showLine: false, pointRadius: 0, order: drawOrder--, meshTile: tileFor(q, zs) });
  }
}

function boxLine(p, q, color, width) {
  return { data: [p, q], showLine: true, pointRadius: 0, borderColor: color, borderWidth: width, order: 200000 };
}
const gridGrey = '#dedede', axisDark = '#2a2a2a';
const boxSets = [];
floorTicks.forEach(t => {
  boxSets.push(boxLine(project(t, -5, 2500), project(t, 5, 2500), gridGrey, 2.5));
  boxSets.push(boxLine(project(-5, t, 2500), project(5, t, 2500), gridGrey, 2.5));
  boxSets.push(boxLine(project(t, 5, 2500), project(t, 5, 0), gridGrey, 2.5));
  boxSets.push(boxLine(project(5, t, 2500), project(5, t, 0), gridGrey, 2.5));
});
depthTicks.forEach(z => {
  boxSets.push(boxLine(project(-5, 5, z), project(5, 5, z), gridGrey, 2.5));
  boxSets.push(boxLine(project(5, 5, z), project(5, -5, z), gridGrey, 2.5));
});
boxSets.push(boxLine(project(-5, 5, 0), project(-5, 5, 2500), axisDark, 2.5));
boxSets.push(boxLine(project(-5, 5, 2500), project(-5, -5, 2500), axisDark, 3));
boxSets.push(boxLine(project(-5, -5, 2500), project(5, -5, 2500), axisDark, 3));
depthTicks.forEach(z => {
  const p = project(-5, 5, z);
  boxSets.push(boxLine(p, { x: p.x - 26, y: p.y - 11 }, axisDark, 2.5));
});
floorTicks.forEach(t => {
  const p = project(-5, t, 2500), q = project(t, -5, 2500);
  boxSets.push(boxLine(p, { x: p.x - 24, y: p.y + 7 }, axisDark, 2.5));
  boxSets.push(boxLine(q, { x: q.x + 20, y: q.y + 13 }, axisDark, 2.5));
});

const surfacePaint = {
  id: 'surfacePaint',
  beforeDatasetDraw(chart, args) {
    const ds = chart.data.datasets[args.index];
    if (!ds.meshTile) return;
    const c = chart.ctx, pts = args.meta.data;
    c.save();
    c.beginPath();
    pts.forEach((p, k) => k ? c.lineTo(p.x, p.y) : c.moveTo(p.x, p.y));
    c.closePath();
    c.fillStyle = ds.meshTile;
    c.strokeStyle = ds.meshTile;
    c.lineWidth = 1;
    c.fill();
    c.stroke();
    // mesh row along x
    c.beginPath();
    c.moveTo(pts[0].x, pts[0].y);
    c.lineTo(pts[1].x, pts[1].y);
    c.strokeStyle = 'rgba(0,0,0,0.75)';
    c.lineWidth = 1;
    c.stroke();
    c.restore();
    return false;
  },
  afterDraw(chart) {
    const c = chart.ctx, sx = chart.scales.x, sy = chart.scales.y;
    c.save();
    c.font = "74px 'Liberation Sans', Arial, sans-serif";
    c.fillStyle = '#2b2b2b';
    c.textBaseline = 'middle';
    c.textAlign = 'right';
    depthTicks.forEach(z => {
      const p = project(-5, 5, z);
      c.fillText(String(z), sx.getPixelForValue(p.x) - 50, sy.getPixelForValue(p.y) - 17);
    });
    c.textAlign = 'center';
    floorTicks.forEach(t => {
      const p = project(-5, t, 2500);
      c.fillText(String(t), sx.getPixelForValue(p.x) - (t < 0 ? 78 : 70), sy.getPixelForValue(p.y) + 66);
      const q = project(t, -5, 2500);
      c.fillText(String(t), sx.getPixelForValue(q.x) + (t < 0 ? 80 : 62), sy.getPixelForValue(q.y) + 73);
    });
    c.restore();
  }
};

new Chart(ctxA, {
  type: 'scatter',
  data: { datasets: boxSets.concat(surfaceSets) },
  options: {
    responsive: false,
    animation: false,
    events: [],
    layout: { padding: 0 },
    plugins: { legend: { display: false }, tooltip: { enabled: false } },
    scales: {
      x: { display: false, min: 0, max: 2203 },
      y: { display: false, min: 0, max: 1700, reverse: true }
    }
  },
  plugins: [surfacePaint]
});

// panel (b)
function levelColor(l) {
  return ['#3a3a3a', '#474747', '#545454', '#636363', '#737373', '#868686', '#9d9d9d', '#b5b5b5', '#cbcbcb', '#e0e0e0'][l - 1];
}

const contourSets = contourLines.map((line, k) => {
  const pts = [];
  for (let i = 0; i < line.length; i += 2) pts.push({ x: line[i], y: line[i + 1] });
  return { data: pts, showLine: true, pointRadius: 0, borderColor: levelColor(contourLevels[k] || 7), borderWidth: 3.5, tension: 0.3, order: 5 };
});

const samplePts = [];
sampleRows.forEach(r => r[1].forEach(x => samplePts.push({ x: x, y: r[0] })));
sampleExtraX.forEach((x, k) => samplePts.push({ x: x, y: sampleExtraY[k] }));

function makeBall() {
  const c = document.createElement('canvas');
  c.width = 24; c.height = 24;
  const g = c.getContext('2d');
  const f = g.createLinearGradient(0, 2, 0, 22);
  f.addColorStop(0, '#6a6a6a');
  f.addColorStop(0.4, '#cfcfcf');
  f.addColorStop(0.7, '#a6a6a6');
  f.addColorStop(1, '#5a5a5a');
  g.beginPath();
  g.arc(12, 12, 10.5, 0, Math.PI * 2);
  g.fillStyle = f;
  g.fill();
  g.lineWidth = 2.2;
  g.strokeStyle = '#2e2e2e';
  g.stroke();
  return c;
}

new Chart(document.getElementById('contourChart').getContext('2d'), {
  type: 'scatter',
  data: {
    datasets: contourSets.concat([
      { data: samplePts, pointStyle: makeBall(), pointRadius: 12, clip: false, order: 2 },
      { data: optimaX.map((x, k) => ({ x: x, y: optimaY[k] })), pointStyle: 'rectRot', pointRadius: 24, backgroundColor: '#000', borderColor: '#000', clip: false, order: 1 }
    ])
  },
  options: {
    responsive: false,
    animation: false,
    events: [],
    layout: { padding: { top: 137, right: 117, left: 0, bottom: 0 } },
    plugins: { legend: { display: false }, tooltip: { enabled: false } },
    scales: {
      x: {
        min: -5, max: 5,
        afterBuildTicks: s => { s.ticks = mapTicks.map(v => ({ value: v })); },
        afterFit: s => { s.height = 226; },
        grid: { color: '#000', lineWidth: 3, drawTicks: false },
        border: { color: '#000', width: 5 },
        ticks: { color: '#333', padding: 62, maxRotation: 0, font: { family: "'Liberation Sans', Arial, sans-serif", size: 105 } }
      },
      y: {
        min: -5, max: 5,
        afterBuildTicks: s => { s.ticks = mapTicks.map(v => ({ value: v })); },
        afterFit: s => { s.width = 255; },
        grid: { color: '#000', lineWidth: 3, drawTicks: false },
        border: { color: '#000', width: 5 },
        ticks: { color: '#333', padding: 40, font: { family: "'Liberation Sans', Arial, sans-serif", size: 105 } }
      }
    }
  }
});
</script>
</body>
</html>
